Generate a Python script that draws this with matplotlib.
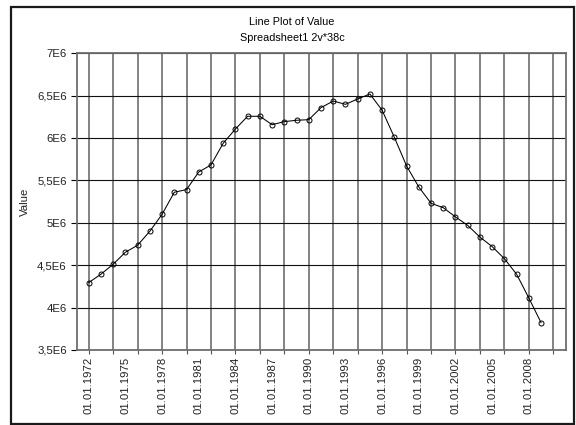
import matplotlib
matplotlib.use("Agg")
import matplotlib.pyplot as plt
from matplotlib.patches import Rectangle

# --- DATA ---
years = list(range(1972, 2010))
values = [4.295, 4.394, 4.512, 4.653, 4.736, 4.901, 5.101, 5.361, 5.392, 5.600,
          5.683, 5.939, 6.107, 6.257, 6.257, 6.158, 6.194, 6.210, 6.217, 6.359,
          6.437, 6.398, 6.461, 6.520, 6.328, 6.009, 5.671, 5.423, 5.231, 5.179,
          5.070, 4.970, 4.832, 4.720, 4.578, 4.394, 4.114, 3.823]
values = [v * 1e6 for v in values]
x_labels = [f"01.01.{y}" for y in years]
y_ticks = [3.5e6, 4e6, 4.5e6, 5e6, 5.5e6, 6e6, 6.5e6, 7e6]
y_tick_labels = ["3,5E6", "4E6", "4,5E6", "5E6", "5,5E6", "6E6", "6,5E6", "7E6"]

plt.rcParams['font.family'] = ['Liberation Sans', 'DejaVu Sans']

W, H = 576, 425
fig = plt.figure(figsize=(W / 100, H / 100), dpi=100)
ax = fig.add_axes([76.5 / W, 1 - 350 / H, (565.5 - 76.5) / W, (350 - 53.3) / H])

idx = list(range(len(values)))
ax.plot(idx, values, color='black', linewidth=0.75, marker='o', markersize=3.6,
        markerfacecolor='none', markeredgecolor='black', markeredgewidth=0.7, zorder=3)

ax.set_xlim(-1, 39)
ax.set_ylim(3.5e6, 7e6)

# labels every 3rd year, grid/tick marks every 2nd year
ax.set_xticks(idx[::3])
ax.set_xticklabels(x_labels[::3], rotation=90, fontsize=8.2, color='#222222')
ax.set_xticks(range(0, 39, 2), minor=True)
ax.xaxis.remove_overlapping_locs = False
ax.tick_params(axis='x', which='major', length=0, pad=5)
ax.tick_params(axis='x', which='minor', length=3, width=0.8, color='#555555')

ax.set_yticks(y_ticks)
ax.set_yticklabels(y_tick_labels, fontsize=8.2, color='#222222')
ax.tick_params(axis='y', length=4, width=0.8, pad=3)

ax.grid(True, axis='x', which='minor', color='#7a7a7a', linewidth=1.3)
ax.grid(True, axis='y', which='major', color='#111111', linewidth=0.8)
ax.set_axisbelow(True)

for s in ax.spines.values():
    s.set_color('#6e6e6e')
    s.set_linewidth(1.3)

ax.set_ylabel("Value", fontsize=8.2, color='#222222')
ax.yaxis.set_label_coords(-0.095, 0.5)

fig.text(292 / W, 1 - 22 / H, "Line Plot of Value", ha='center', va='center', fontsize=7.8)
fig.text(292 / W, 1 - 38 / H, "Spreadsheet1 2v*38c", ha='center', va='center', fontsize=7.8)

# outer frame
fig.patches.append(Rectangle((11 / W, 1 - 424 / H), (574 - 11) / W, (424 - 7) / H,
                             transform=fig.transFigure, fill=False,
                             edgecolor='#1a1a1a', linewidth=1.6))

fig.savefig("out.png", dpi=100)
